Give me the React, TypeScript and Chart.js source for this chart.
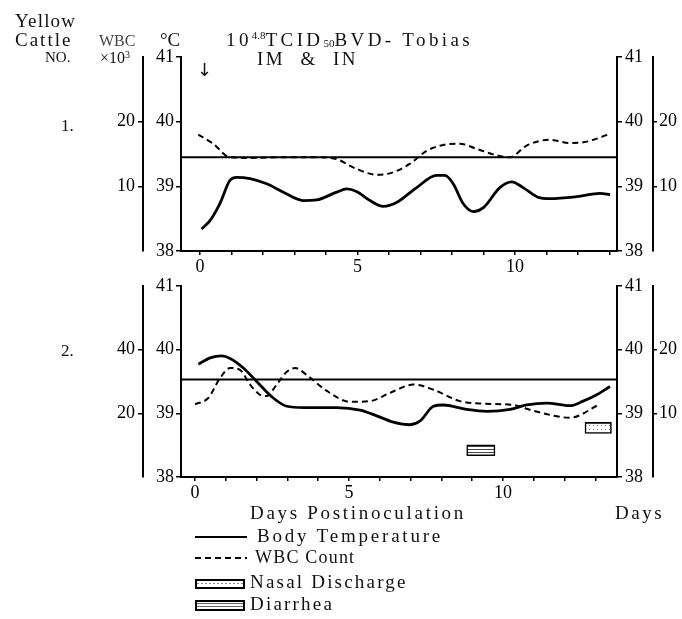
import React, { useEffect, useRef } from 'react';
import { Chart, registerables } from 'chart.js';

Chart.register(...registerables);

const SERIF = "'Liberation Serif', 'DejaVu Serif', serif";

// ---- shared axis values ----
const DAY_TICKS = [0, 1, 2, 3, 4, 5, 6, 7, 8, 9, 10, 11, 12, 13];
const DAY_LABELS = [0, 5, 10];
const TEMP_TICKS = [38, 39, 40, 41];

// ---- Cattle No. 1 ----
const C1_TEMP_DAYS = [0.05, 0.32, 0.63, 0.95, 1.16, 1.59, 2.12, 2.65, 3.28, 3.7, 4.34, 4.66, 4.97, 5.4, 5.82, 6.24, 6.88, 7.51, 7.78, 8.04, 8.36, 8.68, 9.0, 9.52, 9.9, 10.26, 10.74, 11.11, 11.96, 12.7, 13.02];
const C1_TEMP = [38.34, 38.47, 38.73, 39.09, 39.14, 39.12, 39.04, 38.91, 38.78, 38.79, 38.91, 38.96, 38.92, 38.78, 38.69, 38.75, 38.98, 39.17, 39.17, 39.04, 38.73, 38.61, 38.67, 38.98, 39.07, 38.98, 38.83, 38.81, 38.84, 38.89, 38.87];
const C1_WBC_DAYS = [-0.05, 0.42, 0.95, 1.59, 2.65, 3.7, 4.34, 4.97, 5.61, 6.03, 6.67, 7.2, 7.72, 8.25, 8.78, 9.42, 9.84, 10.37, 11.11, 11.75, 12.17, 13.02];
const C1_WBC = [18.0, 16.6, 14.5, 14.4, 14.5, 14.5, 14.2, 12.7, 11.8, 12.0, 13.5, 15.5, 16.4, 16.6, 15.8, 14.8, 14.5, 16.3, 17.2, 16.7, 16.8, 18.1];
const C1_NORMAL_TEMP = 39.45;
const C1_WBC_TICKS_LEFT = [10, 20];
const C1_WBC_TICKS_RIGHT = [10, 20];

// ---- Cattle No. 2 ----
const C2_TEMP_DAYS = [0.11, 0.49, 0.87, 1.14, 1.57, 2.0, 2.54, 2.98, 3.52, 4.6, 5.36, 5.9, 6.44, 6.98, 7.31, 7.74, 8.06, 8.82, 9.47, 10.23, 10.77, 11.42, 12.18, 12.6, 13.04, 13.47];
const C2_TEMP = [39.77, 39.87, 39.9, 39.86, 39.71, 39.5, 39.24, 39.11, 39.09, 39.09, 39.05, 38.96, 38.86, 38.82, 38.88, 39.11, 39.13, 39.06, 39.03, 39.06, 39.13, 39.16, 39.12, 39.19, 39.29, 39.42];
const C2_WBC_DAYS = [0, 0.43, 0.81, 1.14, 1.46, 1.79, 2.11, 2.33, 2.65, 2.98, 3.25, 3.63, 4.28, 5.03, 5.68, 6.33, 7.09, 7.74, 8.6, 9.36, 10.33, 10.98, 12.18, 13.1];
const C2_WBC = [22.8, 24.8, 31.0, 34.2, 33.6, 29.0, 25.8, 25.4, 29.0, 33.0, 34.2, 32.0, 27.0, 23.6, 23.8, 26.4, 29.0, 27.4, 23.8, 23.0, 22.6, 20.8, 18.6, 22.6];
const C2_NORMAL_TEMP = 39.53;
const C2_WBC_TICKS_LEFT = [20, 40];
const C2_WBC_TICKS_RIGHT = [10, 20];
const C2_NASAL_DAYS = [12.66, 13.52];
const C2_NASAL_LEVEL = 38.77;
const C2_DIARRHEA_DAYS = [8.82, 9.74];
const C2_DIARRHEA_LEVEL = 38.42;

type PanelCfg = {
  top: number; height: number; padTop: number; xHeight: number;
  xMin: number; xMax: number; wbcLeftMax: number; wbcRightMax: number;
  tempDays: number[]; temp: number[]; wbcDays: number[]; wbc: number[]; normal: number;
  wbcTicksLeft: number[]; wbcTicksRight: number[];
  symptoms: boolean;
};

const PANEL1: PanelCfg = {
  top: 0, height: 272, padTop: 57, xHeight: 21, xMin: -0.6, xMax: 13.24,
  wbcLeftMax: 30, wbcRightMax: 30,
  tempDays: C1_TEMP_DAYS, temp: C1_TEMP, wbcDays: C1_WBC_DAYS, wbc: C1_WBC, normal: C1_NORMAL_TEMP,
  wbcTicksLeft: C1_WBC_TICKS_LEFT, wbcTicksRight: C1_WBC_TICKS_RIGHT, symptoms: false,
};
const PANEL2: PanelCfg = {
  top: 272, height: 238, padTop: 11, xHeight: 33, xMin: -0.455, xMax: 13.7,
  wbcLeftMax: 60, wbcRightMax: 30,
  tempDays: C2_TEMP_DAYS, temp: C2_TEMP, wbcDays: C2_WBC_DAYS, wbc: C2_WBC, normal: C2_NORMAL_TEMP,
  wbcTicksLeft: C2_WBC_TICKS_LEFT, wbcTicksRight: C2_WBC_TICKS_RIGHT, symptoms: true,
};

const zip = (xs: number[], ys: number[]) => xs.map((x, i) => ({ x, y: ys[i] }));

function makePattern(kind: 'nasal' | 'diarrhea') {
  const c = document.createElement('canvas');
  const ctx = c.getContext('2d')!;
  if (kind === 'nasal') {
    c.width = 4; c.height = 4;
    ctx.fillStyle = '#fff'; ctx.fillRect(0, 0, 4, 4);
    ctx.fillStyle = '#777'; ctx.fillRect(1, 1, 1, 1);
  } else {
    c.width = 4; c.height = 3;
    ctx.fillStyle = '#fff'; ctx.fillRect(0, 0, 4, 3);
    ctx.fillStyle = '#444'; ctx.fillRect(0, 0, 4, 1);
  }
  return ctx.createPattern(c, 'repeat')!;
}

const tickFont = { family: SERIF, size: 18 };

function yAxis(position: 'left' | 'right', weight: number, min: number, max: number, ticksArr: number[], width: number, tickLength: number, padding: number) {
  return {
    type: 'linear', position, weight, min, max, offset: false,
    afterBuildTicks: (s: any) => { s.ticks = ticksArr.map((v) => ({ value: v })); },
    afterFit: (s: any) => { s.width = width; },
    ticks: { color: '#000', font: tickFont, padding, autoSkip: false },
    grid: { display: true, offset: false, drawOnChartArea: false, drawTicks: true, tickLength, color: '#000', lineWidth: 1.5 },
    border: { display: true, color: '#000', width: 2 },
  };
}

function buildConfig(cfg: PanelCfg): any {
  const datasets: any[] = [
    {
      type: 'line', label: 'Body Temperature', data: zip(cfg.tempDays, cfg.temp), yAxisID: 'y',
      borderColor: '#000', borderWidth: 2.8, pointRadius: 0, cubicInterpolationMode: 'monotone', fill: false,
    },
    {
      type: 'line', label: 'WBC Count', data: zip(cfg.wbcDays, cfg.wbc), yAxisID: 'yW',
      borderColor: '#000', borderWidth: 2, borderDash: [6, 4], pointRadius: 0, cubicInterpolationMode: 'monotone', fill: false,
    },
    {
      type: 'line', label: 'Normal', data: [{ x: cfg.xMin, y: cfg.normal }, { x: cfg.xMax, y: cfg.normal }], yAxisID: 'y',
      borderColor: '#000', borderWidth: 2, pointRadius: 0, fill: false,
    },
  ];
  if (cfg.symptoms) {
    datasets.push({
      type: 'bar', label: 'Symptoms', indexAxis: 'y', xAxisID: 'x', yAxisID: 'y',
      data: [
        { x: C2_NASAL_DAYS, y: C2_NASAL_LEVEL },
        { x: C2_DIARRHEA_DAYS, y: C2_DIARRHEA_LEVEL },
      ],
      barThickness: 11,
      backgroundColor: [makePattern('nasal'), makePattern('diarrhea')],
      borderColor: '#000', borderWidth: 1.6, borderSkipped: false,
    });
  }
  return {
    type: 'line',
    data: { datasets },
    options: {
      animation: false, responsive: false, devicePixelRatio: 1,
      layout: { padding: { left: 100, right: 0, top: cfg.padTop, bottom: 0 } },
      plugins: { legend: { display: false }, tooltip: { enabled: false } },
      scales: {
        x: {
          type: 'linear', position: 'bottom', min: cfg.xMin, max: cfg.xMax, offset: false,
          afterBuildTicks: (s: any) => { s.ticks = DAY_TICKS.map((v) => ({ value: v })); },
          afterFit: (s: any) => { s.height = cfg.xHeight; },
          ticks: {
            color: '#000', font: tickFont, padding: 1, autoSkip: false, maxRotation: 0,
            callback: (v: any) => (DAY_LABELS.includes(Number(v)) ? String(v) : ''),
          },
          grid: { display: true, offset: false, drawOnChartArea: false, drawTicks: true, tickLength: 4, color: '#000', lineWidth: 1.5 },
          border: { display: true, color: '#000', width: 2 },
        },
        y: yAxis('left', 0, 38, 41, TEMP_TICKS, 38, 5, 2),
        yW: yAxis('left', 1, 0, cfg.wbcLeftMax, cfg.wbcTicksLeft, 43, 5, 3),
        yR: yAxis('right', 0, 38, 41, TEMP_TICKS, 36, 5, 3),
        yWR: yAxis('right', 1, 0, cfg.wbcRightMax, cfg.wbcTicksRight, 29, 4, 2),
      },
    },
  };
}

function Panel({ cfg }: { cfg: PanelCfg }) {
  const ref = useRef<HTMLCanvasElement | null>(null);
  useEffect(() => {
    const chart = new Chart(ref.current as HTMLCanvasElement, buildConfig(cfg));
    return () => chart.destroy();
  }, [cfg]);
  return (
    <canvas
      ref={ref}
      width={682}
      height={cfg.height}
      style={{ position: 'absolute', left: 0, top: cfg.top, width: 682, height: cfg.height }}
    />
  );
}

const txt = (left: number, top: number, size: number, extra: React.CSSProperties = {}): React.CSSProperties => ({
  position: 'absolute', left, top, fontSize: size, lineHeight: 1, whiteSpace: 'nowrap', color: '#111', fontFamily: SERIF, ...extra,
});

export default function App() {
  return (
    <div style={{ position: 'absolute', left: 0, top: 0, width: 682, height: 619, background: '#fff', overflow: 'hidden', fontFamily: SERIF }}>
      <Panel cfg={PANEL1} />
      <Panel cfg={PANEL2} />

      {/* header */}
      <div style={txt(15, 11, 19, { letterSpacing: 1.2 })}>Yellow</div>
      <div style={txt(15, 30, 19, { letterSpacing: 2 })}>Cattle</div>
      <div style={txt(45, 50, 15)}>NO.</div>
      <div style={txt(99, 33, 16, { color: '#444' })}>WBC</div>
      <div style={txt(100, 50, 16)}>×10<span style={{ fontSize: 10, verticalAlign: 'top' }}>3</span></div>
      <div style={txt(160, 30, 19)}>°C</div>
      <div style={txt(226, 30, 19, { letterSpacing: 3.4 })}>
        10<span style={{ fontSize: 11, verticalAlign: 'top', letterSpacing: 0 }}>4.8</span>TCID<span style={{ fontSize: 11, verticalAlign: 'bottom', letterSpacing: 0 }}>50</span>BVD- Tobias
      </div>
      <div style={txt(257, 49, 19, { letterSpacing: 2.5, wordSpacing: 8 })}>IM &amp; IN</div>
      <div style={txt(197, 61, 18, { fontFamily: "'DejaVu Sans', sans-serif" })}>↓</div>

      {/* panel labels */}
      <div style={txt(61, 117, 17)}>1.</div>
      <div style={txt(61, 342, 17)}>2.</div>

      {/* x title */}
      <div style={txt(250, 503, 19, { letterSpacing: 2.7 })}>Days Postinoculation</div>
      <div style={txt(615, 503, 19, { letterSpacing: 2.5 })}>Days</div>

      {/* legend */}
      <div style={{ position: 'absolute', left: 195, top: 536, width: 52, height: 0, borderTop: '2.5px solid #000' }} />
      <div style={txt(257, 526, 19, { letterSpacing: 2.8 })}>Body Temperature</div>
      <div style={{ position: 'absolute', left: 195, top: 557, width: 52, height: 2, background: 'repeating-linear-gradient(90deg, #000 0 6px, transparent 6px 10px)' }} />
      <div style={txt(255, 548, 18, { letterSpacing: 1.2 })}>WBC Count</div>
      <div style={{ position: 'absolute', left: 195, top: 579, width: 46, height: 6, border: '2px solid #000', background: 'repeating-linear-gradient(90deg, #888 0 2px, #fff 2px 4px)', backgroundSize: '100% 1px', backgroundRepeat: 'no-repeat', backgroundPosition: '0 2px' }} />
      <div style={txt(250, 572, 19, { letterSpacing: 2.2 })}>Nasal Discharge</div>
      <div style={{ position: 'absolute', left: 195, top: 600, width: 46, height: 7, border: '2px solid #000', background: 'repeating-linear-gradient(180deg, #fff 0 1px, #666 1px 2px, #fff 2px 3px)' }} />
      <div style={txt(250, 594, 19, { letterSpacing: 2.2 })}>Diarrhea</div>
    </div>
  );
}
